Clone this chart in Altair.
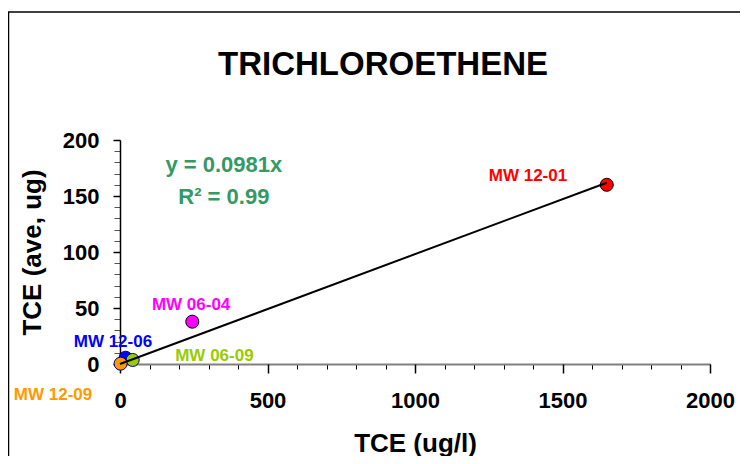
import altair as alt
import pandas as pd

# ---- data ----
wells = ["MW 12-06", "MW 06-09", "MW 12-09", "MW 06-04", "MW 12-01"]
tce_ugl = [19, 43, 2, 245, 1650]          # x: TCE (ug/l)
tce_ave = [5.6, 3.6, 0.3, 37.8, 160]      # y: TCE (ave, ug)
well_colors = ["#0000FF", "#99CC00", "#FF9900", "#FF00FF", "#FF0000"]
well_strokes = ["#000080", "#000080", "#000080", "#000000", "#000000"]
label_x = [-24, 320, -227, 241, 1383]
label_y = [19.6, 7.4, -27.7, 52.7, 168]

slope = 0.0981
trend_x = [0, 1650]
eq_text = ["y = 0.0981x", "R² = 0.99"]
eq_x = [352, 352]
eq_y = [177.7, 149]

chart_title = "TRICHLOROETHENE"

x_minor_ticks = list(range(0, 2001, 100))
x_major_ticks = [0, 500, 1000, 1500, 2000]
y_minor_ticks = list(range(0, 201, 10))
y_major_ticks = [0, 50, 100, 150, 200]

FONT = "Liberation Sans"

pts = pd.DataFrame({"well": wells, "x": tce_ugl, "y": tce_ave,
                    "lx": label_x, "ly": label_y})
trend = pd.DataFrame({"x": trend_x})
eq = pd.DataFrame({"t": eq_text, "x": eq_x, "y": eq_y})

xs = alt.Scale(domain=[0, 2000], nice=False, zero=False)
ys = alt.Scale(domain=[0, 200], nice=False, zero=False)
cs = alt.Scale(domain=wells, range=well_colors)
ss = alt.Scale(domain=wells, range=well_strokes)

x_minor_axis = alt.Axis(orient="bottom", values=x_minor_ticks, labels=False,
                        tickSize=5, tickColor="black", tickWidth=1,
                        domainColor="#808080", domainWidth=2, grid=False, title=None)
y_minor_axis = alt.Axis(orient="left", values=y_minor_ticks, labels=False,
                        tickSize=6, tickColor="#555555", tickWidth=1,
                        domainColor="black", domainWidth=1.5, grid=False, title=None)

x_major_axis = alt.Axis(orient="bottom", values=x_major_ticks, domain=False, format="d",
                        tickSize=9, tickColor="black", tickWidth=1.5, grid=False,
                        labelFont=FONT, labelFontSize=22, labelFontWeight="bold",
                        labelColor="black", labelPadding=17, labelFlush=False,
                        labelOverlap=False,
                        title="TCE (ug/l)", titleFont=FONT, titleFontSize=26,
                        titleFontWeight="bold", titleColor="black",
                        titleBaseline="alphabetic", titleY=87)
y_major_axis = alt.Axis(orient="left", values=y_major_ticks, domain=False, format="d",
                        tickSize=7, tickColor="black", tickWidth=1.5, grid=False,
                        labelFont=FONT, labelFontSize=22, labelFontWeight="bold",
                        labelColor="black", labelPadding=14, labelFlush=False,
                        labelOverlap=False,
                        title="TCE (ave, ug)", titleFont=FONT, titleFontSize=26,
                        titleFontWeight="bold", titleColor="black",
                        titleBaseline="middle", titleX=-88)

points = alt.Chart(pts).mark_point(
    shape="circle", filled=True, size=170, strokeWidth=1, opacity=1
).encode(
    x=alt.X("x:Q", scale=xs, axis=x_minor_axis),
    y=alt.Y("y:Q", scale=ys, axis=y_minor_axis),
    fill=alt.Fill("well:N", scale=cs, legend=None),
    stroke=alt.Stroke("well:N", scale=ss, legend=None),
)

line = alt.Chart(trend).transform_calculate(
    y=f"{slope} * datum.x"
).mark_line(color="black", strokeWidth=2).encode(
    x=alt.X("x:Q", scale=xs, axis=x_major_axis),
    y=alt.Y("y:Q", scale=ys, axis=y_major_axis),
)

labels = alt.Chart(pts).mark_text(
    font=FONT, fontSize=17, fontWeight="bold", align="center", baseline="middle"
).encode(
    x=alt.X("lx:Q", scale=xs, axis=None),
    y=alt.Y("ly:Q", scale=ys, axis=None),
    text="well:N",
    color=alt.Color("well:N", scale=cs, legend=None),
)

eq_layer = alt.Chart(eq).mark_text(
    font=FONT, fontSize=22, fontWeight="bold", align="center", baseline="middle",
    color="#339966"
).encode(
    x=alt.X("x:Q", scale=xs, axis=None),
    y=alt.Y("y:Q", scale=ys, axis=None),
    text="t:N",
)

title_layer = alt.Chart(alt.Data(values=[{"t": chart_title}])).mark_text(
    font=FONT, fontSize=33, fontWeight="bold", align="center", baseline="alphabetic",
    color="black"
).encode(x=alt.value(263), y=alt.value(-65), text="t:N")

frame_top = alt.Chart(alt.Data(values=[{}])).mark_rule(
    color="black", strokeWidth=1.5
).encode(x=alt.value(-112), x2=alt.value(620), y=alt.value(-128))
frame_left = alt.Chart(alt.Data(values=[{}])).mark_rule(
    color="black", strokeWidth=1.5
).encode(x=alt.value(-111.5), y=alt.value(-128), y2=alt.value(400))

chart = alt.layer(
    points, line, labels, eq_layer, title_layer, frame_top, frame_left
).resolve_scale(
    x="shared", y="shared"
).resolve_axis(
    x="independent", y="independent"
).properties(
    width=590, height=224,
    autosize="none",
    padding={"left": 112, "top": 132, "right": 30, "bottom": 92},
    background="white",
).configure_view(stroke="transparent")

chart.save("out.html", embed_options={"renderer": "svg", "actions": False})
